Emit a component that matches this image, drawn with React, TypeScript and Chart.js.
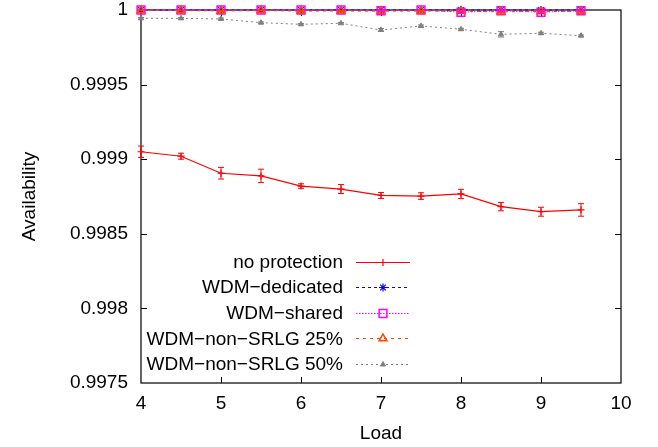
import React, { useEffect, useRef } from "react";
import { Chart, registerables } from "chart.js";

Chart.register(...registerables);

// ---------- data ----------
const loads = [4, 4.5, 5, 5.5, 6, 6.5, 7, 7.5, 8, 8.5, 9, 9.5];

const noProtection = [0.99905, 0.99902, 0.998906, 0.998888, 0.99882, 0.9988, 0.998757, 0.998753, 0.998767, 0.998682, 0.998648, 0.99866];
const noProtectionErr = [0.000038, 0.00002, 0.000039, 0.000045, 0.000015, 0.00003, 0.00002, 0.000022, 0.000031, 0.000028, 0.00003, 0.000042];

const wdmDedicated = [1, 1, 1, 1, 1, 1, 1, 1, 1, 1, 1, 1];
const wdmDedicatedErr = [0, 0, 0, 0, 0, 0, 0, 0, 0, 0, 0, 0];

const wdmShared = [1, 1, 1, 1, 1, 1, 0.999995, 1, 0.999985, 0.999995, 0.999985, 0.999995];
const wdmSharedErr = [0, 0, 0, 0, 0, 0, 0.000005, 0, 0.000006, 0.000004, 0.000006, 0.000004];

const nonSrlg25 = [0.999997, 0.999996, 0.999994, 0.999996, 0.999993, 0.999993, 0.999992, 0.999993, 0.999992, 0.999988, 0.99999, 0.999991];
const nonSrlg25Err = [0.000003, 0.000003, 0.000004, 0.000003, 0.000004, 0.000004, 0.000005, 0.000004, 0.000005, 0.000006, 0.000005, 0.000005];

const nonSrlg50 = [0.999944, 0.999944, 0.99994, 0.999915, 0.999904, 0.999911, 0.999866, 0.999893, 0.999871, 0.999837, 0.999844, 0.999828];
const nonSrlg50Err = [0.000006, 0.000005, 0.000006, 0.000005, 0.000005, 0.000005, 0.00001, 0.000007, 0.000006, 0.000018, 0.000007, 0.000005];

const seriesLabels = ["no protection", "WDM\u2212dedicated", "WDM\u2212shared", "WDM\u2212non\u2212SRLG 25%", "WDM\u2212non\u2212SRLG 50%"];

const xTickValues = [4, 5, 6, 7, 8, 9, 10];
const xTickLabels = ["4", "5", "6", "7", "8", "9", "10"];
const yTickValues = [0.9975, 0.998, 0.9985, 0.999, 0.9995, 1];
const yTickLabels = ["0.9975", "0.998", "0.9985", "0.999", "0.9995", "1"];

const xTitle = "Load";
const yTitle = "Availability";

// ---------- styles ----------
const FONT = "'Liberation Sans', Arial, Helvetica, sans-serif";
const FONT_SIZE = 19;

const styles = [
  { color: "#ff0000", dash: [] as number[], point: "cross", radius: 3.5, fill: "transparent", pw: 1.2, lw: 1.2 },
  { color: "#0000ff", dash: [3, 3], point: "star", radius: 4, fill: "transparent", pw: 1.2, lw: 1 },
  { color: "#ff00ff", dash: [1.5, 1.5], point: "rect", radius: 5.5, fill: "transparent", pw: 1.5, lw: 1 },
  { color: "#ff4500", dash: [3, 4], point: "triangle", radius: 4.5, fill: "transparent", pw: 1.5, lw: 1 },
  { color: "#808080", dash: [2, 3], point: "triangle", radius: 3, fill: "#808080", pw: 1, lw: 1 },
];

const seriesValues = [noProtection, wdmDedicated, wdmShared, nonSrlg25, nonSrlg50];
const seriesErrors = [noProtectionErr, wdmDedicatedErr, wdmSharedErr, nonSrlg25Err, nonSrlg50Err];

function drawMarker(ctx: CanvasRenderingContext2D, style: string, x: number, y: number, r: number) {
  ctx.beginPath();
  if (style === "cross" || style === "star") {
    ctx.moveTo(x - r, y); ctx.lineTo(x + r, y);
    ctx.moveTo(x, y - r); ctx.lineTo(x, y + r);
    if (style === "star") {
      const d = r * Math.SQRT1_2;
      ctx.moveTo(x - d, y - d); ctx.lineTo(x + d, y + d);
      ctx.moveTo(x - d, y + d); ctx.lineTo(x + d, y - d);
    }
    ctx.stroke();
  } else if (style === "rect") {
    const s = r * Math.SQRT1_2;
    ctx.rect(x - s, y - s, 2 * s, 2 * s);
    ctx.stroke();
  } else if (style === "triangle") {
    let rad = 0;
    ctx.moveTo(x + Math.sin(rad) * r, y - Math.cos(rad) * r);
    rad += (2 * Math.PI) / 3;
    ctx.lineTo(x + Math.sin(rad) * r, y - Math.cos(rad) * r);
    rad += (2 * Math.PI) / 3;
    ctx.lineTo(x + Math.sin(rad) * r, y - Math.cos(rad) * r);
    ctx.closePath();
    ctx.fill();
    ctx.stroke();
  }
}

const framePlugin = {
  id: "gnuFrame",
  beforeDatasetsDraw(chart: any) {
    const { ctx, chartArea: a, scales } = chart;
    ctx.save();
    ctx.strokeStyle = "#000";
    ctx.lineWidth = 1.2;
    ctx.setLineDash([]);
    ctx.strokeRect(a.left, a.top, a.right - a.left, a.bottom - a.top);
    const tl = 6;
    ctx.lineWidth = 1;
    ctx.beginPath();
    xTickValues.forEach((v) => {
      const px = Math.round(scales.x.getPixelForValue(v)) + 0.5;
      if (px <= a.left + 1 || px >= a.right - 1) return;
      ctx.moveTo(px, a.bottom); ctx.lineTo(px, a.bottom - tl);
      ctx.moveTo(px, a.top); ctx.lineTo(px, a.top + tl);
    });
    yTickValues.forEach((v) => {
      const py = Math.round(scales.y.getPixelForValue(v)) + 0.5;
      if (py <= a.top + 1 || py >= a.bottom - 1) return;
      ctx.moveTo(a.left, py); ctx.lineTo(a.left + tl, py);
      ctx.moveTo(a.right, py); ctx.lineTo(a.right - tl, py);
    });
    ctx.stroke();
    ctx.restore();
  },
};

const errorBarPlugin = {
  id: "errorBars",
  afterDatasetsDraw(chart: any) {
    const { ctx, scales } = chart;
    ctx.save();
    ctx.setLineDash([]);
    ctx.lineWidth = 1;
    for (let i = seriesValues.length - 1; i >= 0; i--) {
      const vals = seriesValues[i];
      const errs = seriesErrors[i];
      ctx.strokeStyle = styles[i].color;
      ctx.beginPath();
      vals.forEach((v, j) => {
        const e = errs[j];
        if (!e) return;
        const px = scales.x.getPixelForValue(loads[j]);
        const y1 = scales.y.getPixelForValue(v - e);
        const y2 = scales.y.getPixelForValue(v + e);
        ctx.moveTo(px, y1); ctx.lineTo(px, y2);
        ctx.moveTo(px - 3, y1); ctx.lineTo(px + 3, y1);
        ctx.moveTo(px - 3, y2); ctx.lineTo(px + 3, y2);
      });
      ctx.stroke();
    }
    ctx.restore();
  },
};

const keyPlugin = {
  id: "gnuKey",
  afterDraw(chart: any) {
    const { ctx } = chart;
    ctx.save();
    ctx.font = `${FONT_SIZE}px ${FONT}`;
    ctx.textAlign = "right";
    ctx.textBaseline = "middle";
    const textRight = 343;
    const lineL = 356;
    const lineR = 410;
    seriesLabels.forEach((label, i) => {
      const y = 261.5 + i * 25.6;
      const st = styles[i];
      ctx.fillStyle = "#000";
      ctx.fillText(label, textRight, y + 1);
      ctx.strokeStyle = st.color;
      ctx.lineWidth = st.lw;
      ctx.setLineDash(st.dash);
      ctx.beginPath();
      ctx.moveTo(lineL, Math.round(y) + 0.5);
      ctx.lineTo(lineR, Math.round(y) + 0.5);
      ctx.stroke();
      ctx.setLineDash([]);
      ctx.lineWidth = st.pw;
      ctx.fillStyle = st.fill;
      drawMarker(ctx, st.point, (lineL + lineR) / 2, Math.round(y) + 0.5, st.radius);
    });
    ctx.restore();
  },
};

export default function App() {
  const ref = useRef<HTMLCanvasElement>(null);

  useEffect(() => {
    if (!ref.current) return;
    const datasets = seriesLabels.map((label, i) => ({
      label,
      data: loads.map((x, j) => ({ x, y: seriesValues[i][j] })),
      borderColor: styles[i].color,
      backgroundColor: styles[i].color,
      borderWidth: styles[i].lw,
      borderDash: styles[i].dash,
      pointStyle: styles[i].point,
      pointRadius: styles[i].radius,
      pointBorderWidth: styles[i].pw,
      pointBorderColor: styles[i].color,
      pointBackgroundColor: styles[i].fill,
      pointHoverRadius: styles[i].radius,
      tension: 0,
      fill: false,
      clip: false as any,
      order: seriesLabels.length - 1 - i,
    }));

    const chart = new Chart(ref.current, {
      type: "line",
      data: { datasets },
      options: {
        animation: false,
        responsive: false,
        maintainAspectRatio: false,
        events: [],
        layout: { padding: { top: 10, right: 37, left: 0, bottom: 0 } },
        plugins: {
          legend: { display: false },
          tooltip: { enabled: false },
          title: { display: false },
        },
        scales: {
          x: {
            type: "linear",
            min: 4,
            max: 10,
            afterBuildTicks: (s: any) => { s.ticks = xTickValues.map((v) => ({ value: v })); },
            afterFit: (s: any) => { s.height = 64; s.paddingLeft = 0; s.paddingRight = 0; },
            grid: { display: false, drawTicks: false },
            border: { display: false },
            ticks: {
              color: "#000",
              padding: 11,
              maxRotation: 0,
              autoSkip: false,
              font: { family: FONT, size: FONT_SIZE, lineHeight: 1 },
              callback: (v: any) => {
                const k = xTickValues.findIndex((t) => Math.abs(t - Number(v)) < 1e-9);
                return k >= 0 ? xTickLabels[k] : "";
              },
            },
            title: {
              display: true,
              text: xTitle,
              color: "#000",
              font: { family: FONT, size: FONT_SIZE },
              padding: { top: 0, bottom: 2 },
            },
          },
          y: {
            type: "linear",
            min: 0.9975,
            max: 1,
            afterBuildTicks: (s: any) => { s.ticks = yTickValues.map((v) => ({ value: v })); },
            afterFit: (s: any) => { s.width = 141; s.paddingTop = 0; s.paddingBottom = 0; },
            grid: { display: false, drawTicks: false },
            border: { display: false },
            ticks: {
              color: "#000",
              padding: 13,
              autoSkip: false,
              font: { family: FONT, size: FONT_SIZE, lineHeight: 1 },
              callback: (v: any) => {
                const k = yTickValues.findIndex((t) => Math.abs(t - Number(v)) < 1e-9);
                return k >= 0 ? yTickLabels[k] : "";
              },
            },
            title: {
              display: true,
              text: yTitle,
              color: "#000",
              font: { family: FONT, size: FONT_SIZE },
              padding: { top: 18, bottom: 0 },
            },
          },
        },
      },
      plugins: [framePlugin, errorBarPlugin, keyPlugin],
    });
    return () => chart.destroy();
  }, []);

  return (
    <div style={{ position: "fixed", left: 0, top: 0, width: 658, height: 447, background: "#fff" }}>
      <canvas ref={ref} width={658} height={447} style={{ display: "block", width: 658, height: 447 }} />
    </div>
  );
}
